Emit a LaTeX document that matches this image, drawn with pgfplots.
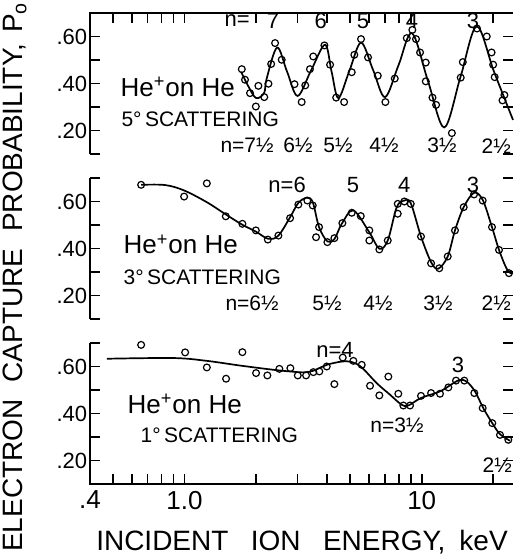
\documentclass[border=0pt]{standalone}
\usepackage{fontspec}
\setmainfont{Liberation Sans}
\usepackage{pgfplots}
\pgfplotsset{compat=1.18}
\newcommand\half{½}
\begin{document}
\begin{tikzpicture}
% ---------------- panel 1: 5 degrees
\begin{axis}[
  xmode=log, xmin=0.4, xmax=24.25, ymin=0.1, ymax=0.7,
  width=211.5pt, height=70.5pt, scale only axis,
  anchor=north west, at={(45pt,-6.5pt)}, clip=false,
  axis line style={draw=none},
  ytick={0.2,0.4,0.6}, yticklabels={.20,.40,.60},
  minor ytick={0.1,0.3,0.5,0.7},
  major tick length=5pt, minor tick length=5pt,
  tick style={black, line width=0.8pt},
  yticklabel style={font=\fontsize{11}{11}\selectfont, inner xsep=1.2pt},
  /pgf/number format/assume math mode=true,
  xtick pos=right,
  xtick={0.5,0.6,0.7,0.8,0.9,1,2,3,4,5,6,7,8,9,20}, xticklabels={},
  xminorticks=false]
\draw[line width=0.9pt] (rel axis cs:0,0) -- (rel axis cs:0,1) -- (rel axis cs:1,1);
\addplot[only marks, mark=o, mark size=1.7pt, mark options={line width=0.6pt}] coordinates {
(1.745,0.461) (1.80,0.416) (1.89,0.359) (2.05,0.390) (2.00,0.302) (2.17,0.342)
(2.26,0.399) (2.32,0.483) (2.41,0.572) (2.57,0.501) (2.91,0.397) (3.12,0.321)
(3.23,0.392) (3.38,0.461) (3.49,0.515) (3.89,0.562) (4.11,0.480) (4.36,0.340)
(4.71,0.321) (5.07,0.448) (5.20,0.522) (5.55,0.589) (5.94,0.511) (6.53,0.433)
(7.03,0.321) (7.70,0.421) (8.65,0.593) (9.13,0.628) (9.46,0.589) (9.84,0.532)
(10.4,0.489) (10.4,0.409) (11.1,0.340) (11.5,0.309) (13.4,0.189) (14.6,0.425)
(14.9,0.491) (17.1,0.634) (18.8,0.600) (19.7,0.532) (20.0,0.480) (20.3,0.427)
(22.3,0.351) (21.9,0.328)};
\addplot[no marks, smooth, tension=0.55, line width=0.85pt] coordinates {
(1.733,0.450) (1.855,0.390) (2.004,0.338) (2.167,0.360) (2.220,0.420) (2.458,0.553)
(2.708,0.450) (2.999,0.347) (3.419,0.456) (3.914,0.565) (4.171,0.450) (4.454,0.338)
(4.965,0.456) (5.551,0.574) (6.236,0.458) (7.005,0.342) (7.987,0.478) (9.103,0.614)
(10.63,0.410) (12.45,0.213) (14.57,0.428) (17.05,0.643) (20.17,0.450) (24.25,0.245)};
\node[font=\fontsize{11}{11}\selectfont, inner sep=0pt] at (axis cs:1.667,0.667) {n=};
\node[font=\fontsize{11}{11}\selectfont, inner sep=0pt] at (axis cs:2.364,0.667) {7};
\node[font=\fontsize{11}{11}\selectfont, inner sep=0pt] at (axis cs:3.755,0.667) {6};
\node[font=\fontsize{11}{11}\selectfont, inner sep=0pt] at (axis cs:5.657,0.667) {5};
\node[font=\fontsize{11}{11}\selectfont, inner sep=0pt] at (axis cs:9.10,0.667) {4};
\node[font=\fontsize{11}{11}\selectfont, inner sep=0pt] at (axis cs:16.45,0.667) {3};
\node[font=\fontsize{13}{13}\selectfont, anchor=west, inner sep=0pt] at (axis cs:0.536,0.386) {He\textsuperscript{+}on He};
\node[font=\fontsize{10.5}{10.5}\selectfont, anchor=west, inner sep=0pt] at (axis cs:0.541,0.246) {5°\,SCATTERING};
\node[font=\fontsize{10.5}{10.5}\selectfont, inner sep=0pt] at (axis cs:1.837,0.135) {n=7\half};
\node[font=\fontsize{10.5}{10.5}\selectfont, inner sep=0pt] at (axis cs:3.013,0.135) {6\half};
\node[font=\fontsize{10.5}{10.5}\selectfont, inner sep=0pt] at (axis cs:4.441,0.135) {5\half};
\node[font=\fontsize{10.5}{10.5}\selectfont, inner sep=0pt] at (axis cs:6.937,0.135) {4\half};
\node[font=\fontsize{10.5}{10.5}\selectfont, inner sep=0pt] at (axis cs:12.18,0.135) {3\half};
\node[font=\fontsize{10.5}{10.5}\selectfont, inner sep=0pt] at (axis cs:20.6,0.135) {2\half};
\end{axis}
% ---------------- panel 2: 3 degrees
\begin{axis}[
  xmode=log, xmin=0.4, xmax=24.25, ymin=0.1, ymax=0.7,
  width=211.5pt, height=70.5pt, scale only axis,
  anchor=north west, at={(45pt,-89pt)}, clip=false,
  axis line style={draw=none},
  ytick={0.2,0.4,0.6}, yticklabels={.20,.40,.60},
  minor ytick={0.1,0.3,0.5,0.7},
  major tick length=5pt, minor tick length=5pt,
  tick style={black, line width=0.8pt},
  yticklabel style={font=\fontsize{11}{11}\selectfont, inner xsep=1.2pt},
  /pgf/number format/assume math mode=true,
  xmajorticks=false, xminorticks=false]
\draw[line width=0.9pt] (rel axis cs:0,0) -- (rel axis cs:0,1);
\addplot[only marks, mark=o, mark size=1.7pt, mark options={line width=0.6pt}] coordinates {
(0.657,0.671) (0.997,0.621) (1.243,0.677) (1.494,0.537) (1.755,0.505) (2.0,0.477)
(2.246,0.438) (2.489,0.455) (2.788,0.529) (3.021,0.587) (3.297,0.604) (3.474,0.583)
(3.693,0.491) (3.587,0.448) (4.004,0.427) (4.284,0.444) (4.63,0.508) (5.072,0.552)
(5.535,0.538) (6.015,0.477) (6.015,0.434) (6.629,0.396) (7.193,0.434) (7.925,0.590)
(7.925,0.548) (8.448,0.600) (8.991,0.590) (9.93,0.451) (10.95,0.337) (11.86,0.316)
(12.87,0.366) (13.81,0.477) (15.03,0.576) (16.61,0.630) (18.07,0.604) (19.78,0.491)
(21.17,0.394) (23.32,0.295)};
\addplot[no marks, smooth, tension=0.55, line width=0.85pt] coordinates {
(0.657,0.671) (0.829,0.670) (0.997,0.647) (1.243,0.597) (1.494,0.545) (1.755,0.501)
(2.0,0.472) (2.259,0.441) (2.489,0.455) (2.788,0.533) (3.021,0.594) (3.279,0.616)
(3.474,0.597) (3.693,0.491) (4.004,0.430) (4.284,0.440) (4.603,0.505) (5.151,0.562)
(6.015,0.469) (6.629,0.399) (7.193,0.434) (7.847,0.576) (8.448,0.604) (8.991,0.593)
(9.93,0.451) (10.95,0.342) (11.74,0.314) (12.87,0.366) (13.81,0.477) (15.03,0.576)
(16.61,0.637) (18.07,0.607) (19.78,0.491) (21.17,0.394) (22.80,0.314) (23.94,0.292)};
\node[font=\fontsize{11}{11}\selectfont, inner sep=0pt] at (axis cs:2.708,0.672) {n=6};
\node[font=\fontsize{11}{11}\selectfont, inner sep=0pt] at (axis cs:5.135,0.672) {5};
\node[font=\fontsize{11}{11}\selectfont, inner sep=0pt] at (axis cs:8.432,0.672) {4};
\node[font=\fontsize{11}{11}\selectfont, inner sep=0pt] at (axis cs:16.45,0.672) {3};
\node[font=\fontsize{13}{13}\selectfont, anchor=west, inner sep=0pt] at (axis cs:0.552,0.417) {He\textsuperscript{+}on He};
\node[font=\fontsize{10.5}{10.5}\selectfont, anchor=west, inner sep=0pt] at (axis cs:0.552,0.277) {3°\,SCATTERING};
\node[font=\fontsize{10.5}{10.5}\selectfont, inner sep=0pt] at (axis cs:1.929,0.166) {n=6\half};
\node[font=\fontsize{10.5}{10.5}\selectfont, inner sep=0pt] at (axis cs:3.992,0.166) {5\half};
\node[font=\fontsize{10.5}{10.5}\selectfont, inner sep=0pt] at (axis cs:6.545,0.166) {4\half};
\node[font=\fontsize{10.5}{10.5}\selectfont, inner sep=0pt] at (axis cs:11.71,0.166) {3\half};
\node[font=\fontsize{10.5}{10.5}\selectfont, inner sep=0pt] at (axis cs:20.6,0.166) {2\half};
\end{axis}
% ---------------- panel 3: 1 degree
\begin{axis}[
  xmode=log, xmin=0.4, xmax=24.25, ymin=0.1, ymax=0.7,
  width=211.5pt, height=70.5pt, scale only axis,
  anchor=north west, at={(45pt,-171.5pt)}, clip=false,
  axis line style={draw=none},
  ytick={0.2,0.4,0.6}, yticklabels={.20,.40,.60},
  minor ytick={0.1,0.3,0.5,0.7},
  major tick length=5pt, minor tick length=5pt,
  tick style={black, line width=0.8pt},
  yticklabel style={font=\fontsize{11}{11}\selectfont, inner xsep=1.2pt},
  xticklabel style={font=\fontsize{13}{13}\selectfont},
  /pgf/number format/assume math mode=true,
  xtick pos=left,
  xtick={0.4,1,10}, xticklabels={.4,1.0,10},
  minor xtick={0.5,0.6,0.7,0.8,0.9,2,3,4,5,6,7,8,9,20}]
\draw[line width=0.9pt] (rel axis cs:0,1) -- (rel axis cs:0,0) -- (rel axis cs:1,0);
\addplot[only marks, mark=o, mark size=1.7pt, mark options={line width=0.6pt}] coordinates {
(0.657,0.692) (1.007,0.660) (1.243,0.596) (1.498,0.548) (1.755,0.661) (2.004,0.572)
(2.236,0.562) (2.513,0.590) (2.796,0.593) (3.004,0.562) (3.256,0.562) (3.494,0.576)
(3.704,0.579) (3.98,0.600) (4.284,0.525) (4.648,0.638) (5.151,0.624) (5.588,0.607)
(6.056,0.518) (6.629,0.477) (7.234,0.557) (7.97,0.484) (8.366,0.434) (8.927,0.434)
(9.93,0.475) (10.95,0.487) (11.94,0.484) (12.95,0.511) (13.95,0.540) (15.12,0.540)
(16.66,0.487) (18.07,0.423) (19.83,0.359) (21.37,0.309) (23.17,0.288)};
\addplot[no marks, smooth, tension=0.55, line width=0.85pt] coordinates {
(0.471,0.633) (0.899,0.636) (1.243,0.624) (1.717,0.604) (2.371,0.586) (2.788,0.579)
(3.172,0.575) (3.494,0.582) (3.98,0.607) (4.603,0.621) (5.072,0.619) (5.588,0.596)
(6.463,0.529) (7.354,0.480) (8.237,0.437) (8.781,0.434) (9.93,0.466) (11.94,0.494)
(13.59,0.529) (14.50,0.543) (15.47,0.536) (16.77,0.494) (18.17,0.423) (19.83,0.359)
(21.37,0.312) (23.55,0.284)};
\node[font=\fontsize{11}{11}\selectfont, inner sep=0pt] at (axis cs:4.313,0.671) {n=4};
\node[font=\fontsize{11}{11}\selectfont, inner sep=0pt] at (axis cs:14.22,0.607) {3};
\node[font=\fontsize{13}{13}\selectfont, anchor=west, inner sep=0pt] at (axis cs:0.574,0.441) {He\textsuperscript{+}on He};
\node[font=\fontsize{10.5}{10.5}\selectfont, anchor=west, inner sep=0pt] at (axis cs:0.651,0.309) {1°\,SCATTERING};
\node[font=\fontsize{10.5}{10.5}\selectfont, inner sep=0pt] at (axis cs:7.87,0.348) {n=3\half};
\node[font=\fontsize{10.5}{10.5}\selectfont, inner sep=0pt] at (axis cs:20.8,0.182) {2\half};
\end{axis}
% ---------------- axis titles
\node[rotate=90, font=\fontsize{14}{14}\selectfont, anchor=base] at (11pt,-138.5pt)
  {ELECTRON\hspace{0.6em}CAPTURE\hspace{0.6em}PROBABILITY,\hspace{0.4em}P\textsubscript{o}};
\node[font=\fontsize{14}{14}\selectfont, anchor=base] at (151pt,-275pt)
  {INCIDENT\hspace{0.8em}ION\hspace{0.8em}ENERGY,\hspace{0.5em}keV};
\pgfresetboundingbox
\path[use as bounding box] (0pt,0pt) rectangle (256.5pt,-277.5pt);
\end{tikzpicture}
\end{document}
